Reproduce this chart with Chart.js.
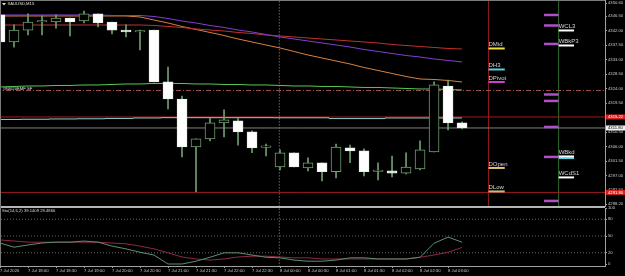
<!DOCTYPE html>
<html>
<head>
<meta charset="utf-8">
<script src="https://cdn.jsdelivr.net/npm/chart.js@4.4.1/dist/chart.umd.min.js"></script>
<style>
  html, body { margin: 0; padding: 0; background: #000; overflow: hidden; }
  #wrap { position: relative; width: 625px; height: 276px; background: #000; }
  canvas { position: absolute; left: 0; }
  #priceChart { top: 0; }
  #stochChart { top: 206px; }
</style>
</head>
<body>
<div id="wrap">
  <canvas id="priceChart" width="625" height="207"></canvas>
  <canvas id="stochChart" width="625" height="70"></canvas>
</div>
<script>
const symbolTitle = 'XAUUSD,M15';
const stochTitle = 'Sto(14,6,2) 39.1409 29.4866';
const objectLabel = '#80020EMF SF';

const timeLabels = ['7 Jul 2026', '7 Jul 18:00', '7 Jul 18:30', '7 Jul 19:00', '7 Jul 20:00', '7 Jul 20:30',
  '7 Jul 21:00', '7 Jul 21:30', '7 Jul 22:00', '7 Jul 22:30', '8 Jul 00:00', '8 Jul 00:30', '8 Jul 01:00',
  '8 Jul 01:30', '8 Jul 02:00', '8 Jul 02:30', '8 Jul 03:00'];

// M15 candles
const opens  = [4346.9, 4338.5, 4342.2, 4344.7, 4344.7, 4345.9, 4345.0, 4347.2, 4344.7, 4342.2, 4341.6, 4342.2,
  4326.1, 4320.8, 4305.9, 4308.4, 4313.4, 4314.0, 4310.6, 4305.8, 4299.7, 4304.1, 4299.4, 4301.0, 4298.2,
  4305.6, 4304.7, 4298.3, 4298.5, 4297.8, 4299.1, 4304.4, 4324.8, 4313.4];
const highs  = [4347.2, 4343.8, 4347.2, 4346.6, 4346.9, 4345.9, 4348.1, 4347.2, 4344.7, 4343.8, 4342.2, 4342.2,
  4330.7, 4321.7, 4308.4, 4314.9, 4317.4, 4314.9, 4310.9, 4306.8, 4305.0, 4304.1, 4302.5, 4301.0, 4306.8,
  4306.5, 4305.3, 4301.0, 4303.1, 4304.1, 4307.8, 4326.1, 4326.7, 4313.7];
const lows   = [4337.6, 4336.9, 4340.7, 4340.7, 4342.8, 4340.4, 4344.4, 4343.2, 4341.0, 4340.1, 4336.0, 4326.1,
  4317.7, 4302.8, 4292.0, 4307.8, 4309.0, 4306.5, 4304.1, 4303.1, 4298.8, 4299.7, 4298.5, 4295.4, 4296.3,
  4301.0, 4296.9, 4295.7, 4296.6, 4297.5, 4298.8, 4304.4, 4311.2, 4311.5];
const closes = [4338.5, 4342.2, 4344.7, 4345.0, 4345.9, 4344.7, 4347.2, 4344.4, 4342.2, 4341.6, 4341.9, 4326.1,
  4320.8, 4305.9, 4308.4, 4313.4, 4314.3, 4310.6, 4305.6, 4305.9, 4304.1, 4299.7, 4301.0, 4298.2, 4305.9,
  4304.7, 4298.2, 4298.5, 4297.8, 4299.7, 4305.0, 4325.2, 4313.4, 4311.8];

// moving averages
const maPurple = [4346.88, 4346.88, 4346.88, 4346.88, 4346.88, 4346.88, 4346.88, 4346.88, 4346.72, 4346.72,
  4346.72, 4346.41, 4345.79, 4345.01, 4344.39, 4343.62, 4343.00, 4342.22, 4341.60, 4340.82, 4340.05, 4339.43,
  4338.81, 4338.19, 4337.57, 4336.94, 4336.17, 4335.55, 4334.93, 4334.30, 4333.84, 4333.22, 4332.76, 4332.29];
const maRed = [4343.77, 4343.77, 4343.77, 4343.77, 4343.77, 4343.77, 4343.77, 4343.77, 4343.77, 4343.77,
  4343.77, 4343.62, 4343.31, 4343.00, 4342.53, 4342.22, 4341.91, 4341.45, 4341.13, 4340.67, 4340.36, 4340.05,
  4339.74, 4339.43, 4339.12, 4338.81, 4338.50, 4338.19, 4337.72, 4337.41, 4337.10, 4336.79, 4336.48, 4336.32];
const maOrange = [4346.57, 4346.57, 4346.57, 4346.57, 4346.57, 4346.57, 4346.57, 4346.57, 4346.57, 4346.57,
  4346.26, 4345.32, 4344.39, 4343.31, 4342.38, 4341.45, 4340.51, 4339.43, 4338.50, 4337.57, 4336.63, 4335.55,
  4334.46, 4333.53, 4332.60, 4331.67, 4330.58, 4329.65, 4328.72, 4327.79, 4327.01, 4326.86, 4326.55, 4326.08];
const maGreen = [4324.53, 4324.69, 4324.84, 4324.84, 4325.00, 4325.00, 4325.15, 4325.15, 4325.31, 4325.46,
  4325.46, 4325.62, 4325.62, 4325.62, 4325.46, 4325.46, 4325.31, 4325.31, 4325.15, 4325.15, 4325.00, 4324.84,
  4324.84, 4324.69, 4324.69, 4324.53, 4324.38, 4324.38, 4324.22, 4324.07, 4323.91, 4323.91, 4323.76, 4323.60];
const maCyan = [4314.45, 4314.45, 4314.51, 4314.51, 4314.60, 4314.60, 4314.66, 4314.66, 4314.76, 4314.76,
  4314.91, 4314.91, 4315.00, 4315.00, 4315.00, 4315.00, 4315.00, 4315.00, 4315.00, 4315.00, 4314.97, 4314.97,
  4314.97, 4314.97, 4314.72, 4314.72, 4314.72, 4314.72, 4314.91, 4314.91, 4314.91, 4314.91, 4314.91, 4314.91];

// stochastic
const stochMain = [37.5, 30, 34, 37.5, 39, 39, 41, 39, 32, 27, 21, 16, 0, 0, 5, 12, 20, 20, 16, 12, 11, 7, 5, 5,
  7, 11, 11, 9, 9, 9, 12, 37, 48, 39];
const stochSignal = [43, 41, 39, 39, 39, 39, 39, 39, 37.5, 36, 32, 27, 20, 12.5, 9, 7, 9, 12.5, 14, 14, 12.5,
  11, 11, 9, 9, 9, 9, 9, 9, 9, 12, 16, 21, 29.5];
const stochLevels = [20, 50, 80];
const stochTicks = [0, 20, 50, 80, 100];

// price axis
const priceMin = 4288.2;
const priceMax = 4350.6;
const priceTicks = [4350.60, 4346.50, 4342.00, 4337.50, 4333.00, 4328.50, 4324.00, 4319.50, 4315.00,
  4310.50, 4306.00, 4301.50, 4297.00, 4292.50, 4288.20];

// horizontal objects
const highLine = 4315.22;
const lowLine = 4291.80;
const objectLine = 4323.45;
const bidPrice = closes[closes.length - 1];

// pivot levels
const dailyNames  = ['DMid', 'DH3', 'DPivot', 'DOpen', 'DLow'];
const dailyPrices = [4336.48, 4329.96, 4326.08, 4299.39, 4292.10];
const dailyColors = ['#f0e040', '#58d0e0', '#d040d0', '#e8c070', '#c0c070'];
const weeklyNames  = ['WCL3', 'WBkP3', 'WBkd', '', 'WCdS1'];
const weeklyPrices = [4342.07, 4337.41, 4302.96, 4302.45, 4296.45];
const weeklyColors = ['#ffffff', '#ffffff', '#ffffff', '#58d0e0', '#ffffff'];
const zonePrices = [4346.88, 4343.62, 4337.88, 4322.20, 4320.19, 4312.12, 4302.81, 4289.15];

// bar-index positions of the vertical markers
const viewBars = 43.21;
const sessionBar = 19.95;
const dayMarkBar = 34.89;
const weekMarkBar = 39.9;
const zoneStart = 38.85;
const dailyEnd = 36.05;
const weeklyEnd = 41.0;

Chart.defaults.font.family = '"Liberation Sans", Arial, sans-serif';
Chart.defaults.color = '#c8c8c8';

const idx = closes.map((_, i) => i);
const pts = arr => arr.map((v, i) => ({ x: i, y: v }));
const seg = (x0, x1, v) => [{ x: x0, y: v }, { x: x1, y: v }];
const bull = i => closes[i] >= opens[i];

const lineDs = (data, color, extra) => Object.assign({
  type: 'line', data, borderColor: color, borderWidth: 1, pointRadius: 0, fill: false, tension: 0
}, extra || {});

const datasets = [
  {
    type: 'bar', order: 0, grouped: false, barThickness: 10, minBarLength: 1.5,
    data: idx.map(i => ({ x: i, y: [Math.min(opens[i], closes[i]), Math.max(opens[i], closes[i])] })),
    backgroundColor: idx.map(i => bull(i) ? '#000000' : '#ffffff'),
    borderColor: idx.map(i => bull(i) ? '#6f9f6f' : '#e8f0e8'),
    borderWidth: 1, borderSkipped: false
  },
  {
    type: 'bar', order: 1, grouped: false, barThickness: 1,
    data: idx.map(i => ({ x: i, y: [lows[i], highs[i]] })),
    backgroundColor: '#6f9f6f', borderWidth: 0
  },
  lineDs(pts(maPurple), '#8040d0', { order: 2 }),
  lineDs(pts(maRed), '#c03030', { order: 2 }),
  lineDs(pts(maOrange), '#d88040', { order: 2 }),
  lineDs(pts(maGreen), '#58c858', { order: 2 }),
  lineDs(pts(maCyan), '#88d0d0', { order: 2, stepped: 'middle' }),
  lineDs(seg(-1, 50, highLine), '#a01c1c', { order: 4 }),
  lineDs(seg(-1, 50, lowLine), '#a01c1c', { order: 4 }),
  lineDs(seg(-1, 50, bidPrice), '#808080', { order: 4 }),
  lineDs(seg(-1, 50, objectLine), '#a05050', { order: 4, borderDash: [5, 2, 1, 2] }),
  lineDs([{ x: sessionBar, y: 4280 }, { x: sessionBar, y: 4360 }], '#9a9a9a',
    { order: 5, borderDash: [1, 2], clip: { left: 0, right: 0, top: 3, bottom: 3 } }),
  lineDs([{ x: dayMarkBar, y: 4280 }, { x: dayMarkBar, y: 4360 }], '#8c1a1a',
    { order: 5, clip: { left: 0, right: 0, top: 3, bottom: 3 } }),
  lineDs([{ x: weekMarkBar, y: 4280 }, { x: weekMarkBar, y: 4360 }], '#2e6e2e',
    { order: 5, clip: { left: 0, right: 0, top: 3, bottom: 3 } })
];
zonePrices.forEach(p => datasets.push(lineDs(seg(zoneStart, weekMarkBar, p), '#b050c8', { order: 3, borderWidth: 2.5 })));
dailyPrices.forEach((p, k) => datasets.push(lineDs(seg(dayMarkBar, dailyEnd, p), dailyColors[k], { order: 3, borderWidth: 2 })));
weeklyPrices.forEach((p, k) => datasets.push(lineDs(seg(weekMarkBar, weeklyEnd, p), weeklyColors[k], { order: 3, borderWidth: 2 })));

const priceTags = [
  { price: highLine, bg: '#d42020', fg: '#ffffff' },
  { price: bidPrice, bg: '#f0f0f0', fg: '#000000' },
  { price: lowLine, bg: '#d42020', fg: '#ffffff' }
];

const priceOverlay = {
  id: 'priceOverlay',
  afterDatasetsDraw(chart) {
    const { ctx, scales: { x, y } } = chart;
    ctx.save();
    ctx.fillStyle = '#7a7a7a';
    ctx.fillRect(0, 0, x.right, 1);
    ctx.fillRect(0, 0, 1, chart.height);
    ctx.fillStyle = '#a0a0a0';
    ctx.fillRect(x.right, 0, 1, chart.height);

    // title
    ctx.fillStyle = '#e0e0e0';
    ctx.beginPath();
    ctx.moveTo(2, 3); ctx.lineTo(6, 3); ctx.lineTo(4, 5.5); ctx.closePath(); ctx.fill();
    ctx.font = '4.2px "Liberation Sans"';
    ctx.textBaseline = 'middle';
    ctx.fillText(symbolTitle, 7.5, 4.2);
    ctx.fillText(objectLabel, 3, y.getPixelForValue(objectLine) - 1.5);

    // level names
    ctx.font = '6px "Liberation Sans"';
    ctx.textBaseline = 'alphabetic';
    ctx.fillStyle = '#d4d4d4';
    dailyNames.forEach((n, k) => ctx.fillText(n, x.getPixelForValue(dayMarkBar), y.getPixelForValue(dailyPrices[k]) - 2));
    weeklyNames.forEach((n, k) => { if (n) ctx.fillText(n, x.getPixelForValue(weekMarkBar), y.getPixelForValue(weeklyPrices[k]) - 2); });

    // price tags on the axis
    ctx.font = '4.2px "Liberation Sans"';
    ctx.textBaseline = 'middle';
    priceTags.forEach(t => {
      const py = y.getPixelForValue(t.price);
      ctx.fillStyle = t.bg;
      ctx.fillRect(x.right + 1, py - 2.5, 19, 5);
      ctx.fillStyle = t.fg;
      ctx.fillText(t.price.toFixed(2), x.right + 3, py);
    });
    ctx.restore();
  }
};

new Chart(document.getElementById('priceChart'), {
  type: 'bar',
  data: { datasets },
  options: {
    responsive: false, animation: false, devicePixelRatio: 1,
    layout: { padding: { top: 3, bottom: 3, left: 0, right: 0 } },
    plugins: { legend: { display: false }, tooltip: { enabled: false } },
    scales: {
      x: { type: 'linear', min: 0, max: viewBars, display: false, offset: false },
      y: {
        position: 'right', min: priceMin, max: priceMax,
        afterBuildTicks: s => { s.ticks = priceTicks.map(v => ({ value: v })); },
        afterFit: s => { s.width = 20; s.paddingTop = 0; s.paddingBottom = 0; },
        ticks: { color: '#c8c8c8', font: { size: 4.2 }, padding: 1, callback: v => v.toFixed(2) },
        grid: { drawOnChartArea: false, tickLength: 2, tickColor: '#a0a0a0' },
        border: { color: '#a0a0a0' }
      }
    }
  },
  plugins: [priceOverlay]
});

const stochOverlay = {
  id: 'stochOverlay',
  afterDatasetsDraw(chart) {
    const { ctx, scales: { x } } = chart;
    ctx.save();
    ctx.fillStyle = '#b4b4b4';
    ctx.fillRect(0, 0, x.right, 2);
    ctx.fillStyle = '#7a7a7a';
    ctx.fillRect(0, 0, 1, chart.chartArea.bottom);
    ctx.fillStyle = '#d8d8d8';
    ctx.font = '4.2px "Liberation Sans"';
    ctx.textBaseline = 'middle';
    ctx.fillText(stochTitle, 2, 5.2);
    ctx.restore();
  }
};

const stochSets = [
  lineDs(pts(stochMain), '#5e8f6e', { order: 0 }),
  lineDs(pts(stochSignal), '#902848', { order: 1 }),
  lineDs([{ x: sessionBar, y: -10 }, { x: sessionBar, y: 110 }], '#9a9a9a', { order: 3, borderDash: [1, 2] })
];
stochLevels.forEach(v => stochSets.push(lineDs(seg(-1, 50, v), '#6a6a6a', { order: 2, borderDash: [1, 2] })));

new Chart(document.getElementById('stochChart'), {
  type: 'line',
  data: { datasets: stochSets },
  options: {
    responsive: false, animation: false, devicePixelRatio: 1,
    layout: { padding: { top: 2, bottom: 0, left: 0, right: 0 } },
    plugins: { legend: { display: false }, tooltip: { enabled: false } },
    scales: {
      x: {
        type: 'linear', min: 0, max: viewBars, offset: false,
        afterBuildTicks: s => { s.ticks = timeLabels.map((_, k) => ({ value: k * 2 })); },
        afterFit: s => { s.height = 10; s.paddingLeft = 0; s.paddingRight = 0; },
        ticks: {
          color: '#c8c8c8', font: { size: 4.2 }, align: 'start', maxRotation: 0, minRotation: 0,
          autoSkip: false, padding: 0.5, callback: v => timeLabels[v / 2]
        },
        grid: { drawOnChartArea: false, tickLength: 2, tickColor: '#a0a0a0' },
        border: { color: '#a0a0a0' }
      },
      y: {
        position: 'right', min: -3.57, max: 100,
        afterBuildTicks: s => { s.ticks = stochTicks.map(v => ({ value: v })); },
        afterFit: s => { s.width = 20; s.paddingTop = 0; s.paddingBottom = 0; },
        ticks: { color: '#c8c8c8', font: { size: 4.2 }, padding: 1, callback: v => String(v) },
        grid: { drawOnChartArea: false, tickLength: 2, tickColor: '#a0a0a0' },
        border: { color: '#a0a0a0' }
      }
    }
  },
  plugins: [stochOverlay]
});
</script>
</body>
</html>
